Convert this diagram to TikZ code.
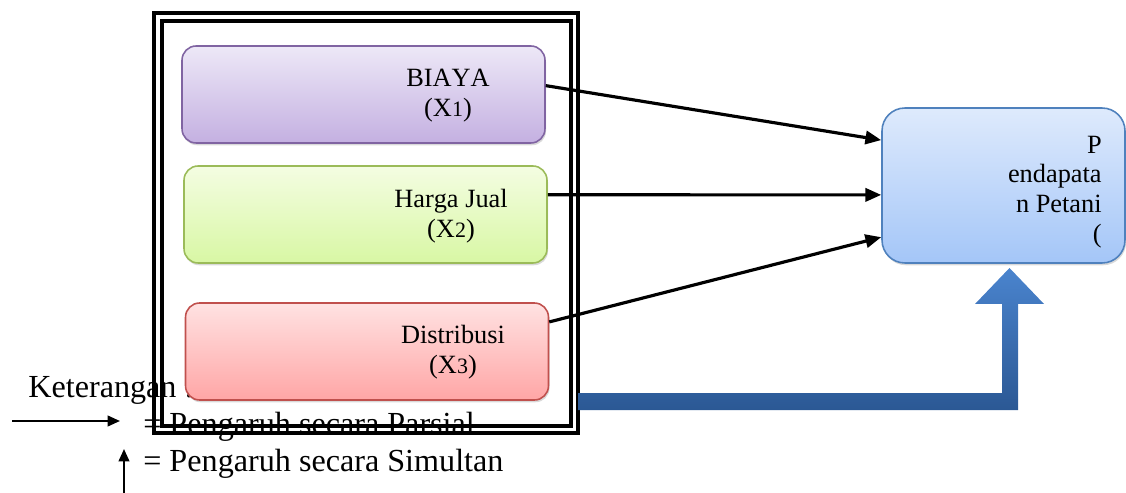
\documentclass[tikz,border=0pt]{standalone}
\usepackage{fontspec}
\setmainfont{Liberation Serif}[Kerning=Off]
\usetikzlibrary{calc}
\usetikzlibrary{arrows.meta}
\usetikzlibrary{shadows}

\definecolor{unguGaris}{HTML}{8064A2}
\definecolor{hijauGaris}{HTML}{9BBB59}
\definecolor{merahGaris}{HTML}{C0504D}
\definecolor{biruGaris}{HTML}{4F81BD}
\newcommand\angka[1]{{\fontsize{12.5}{14}\selectfont #1}}

\begin{document}
\begin{tikzpicture}[x=0.02cm, y=-0.02cm,
  kotak/.style={rounded corners=8pt, line width=0.9pt, minimum width=7.26cm, minimum height=1.94cm,
    drop shadow={shadow xshift=0.6pt, shadow yshift=-1.3pt, opacity=0.3}},
  teks/.style={inner sep=0pt, align=center, font=\fontsize{15}{17}\selectfont},
  ket/.style={inner sep=0pt, anchor=base west, font=\fontsize{18.3}{22}\selectfont},
  panah/.style={-{Triangle[length=9pt,width=7.5pt]}, line width=1.8pt},
  bingkai/.style={line width=2.2pt}]

\useasboundingbox (0,0) rectangle (1126,493);

% keterangan (ditimpa bingkai)
\node[ket] (keterangan) at (28,397) {Keterangan :};
\node[ket] (parsial) at (143,434) {= Pengaruh secara Parsial};
\node[ket] (simultan) at (143,471) {= Pengaruh secara Simultan};
\coordinate (parsialA) at (12,421);
\coordinate (parsialB) at (120,421);
\coordinate (simultanA) at (124,493);
\coordinate (simultanB) at (124,449);
\draw[-{Triangle[length=7pt,width=6pt]}, line width=1.2pt] (parsialA)--(parsialB);
\draw[-{Triangle[length=7pt,width=6pt]}, line width=1.2pt] (simultanA)--(simultanB);

% bingkai ganda
\draw[bingkai] (154,13) rectangle (578,433);
\draw[bingkai] (162,21) rectangle (571,426);

% variabel X
\node[kotak, draw=unguGaris, top color={rgb,255:red,237;green,232;blue,247}, bottom color={rgb,255:red,196;green,176;blue,225}] (biaya) at (363.5,94.5) {};
\node[kotak, draw=hijauGaris, top color={rgb,255:red,244;green,253;blue,226}, bottom color={rgb,255:red,216;green,247;blue,164}] (harga) at (365.5,214.5) {};
\node[kotak, draw=merahGaris, top color={rgb,255:red,255;green,226;blue,226}, bottom color={rgb,255:red,255;green,166;blue,166}] (distribusi) at (367,351.5) {};
\node[teks] at (448,96) {BIAYA\\(X\angka{1})};
\node[teks] at (451,216) {Harga Jual\\(X\angka{2})};
\node[teks] at (453,352) {Distribusi\\(X\angka{3})};

% variabel Y
\node[kotak, rounded corners=13pt, minimum width=4.86cm, minimum height=3.1cm, draw=biruGaris,
  top color={rgb,255:red,222;green,234;blue,252}, bottom color={rgb,255:red,164;green,198;blue,248}] (pendapatan) at (1003.5,185.5) {};
\node[teks, align=right, anchor=east] at (1102,192) {P\\endapata\\n Petani\\(};

% pengaruh parsial
\draw[panah] ($(biaya.north east)!0.41!(biaya.south east)$)--($(pendapatan.north west)!0.21!(pendapatan.south west)$);
\draw[panah] ($(harga.north east)!0.3!(harga.south east)$)--($(pendapatan.north west)!0.56!(pendapatan.south west)$);
\draw[panah] ($(distribusi.north east)!0.2!(distribusi.south east)$)--($(pendapatan.north west)!0.83!(pendapatan.south west)$);

% pengaruh simultan
\shade[top color={rgb,255:red,74;green,132;blue,206}, bottom color={rgb,255:red,43;green,88;blue,148}]
  (578,393)--(1002,393)--(1002,304)--(975,304)--(1009.5,268)--(1044,304)--(1018,304)--(1018,410)--(578,410)--cycle;

\end{tikzpicture}
\end{document}
